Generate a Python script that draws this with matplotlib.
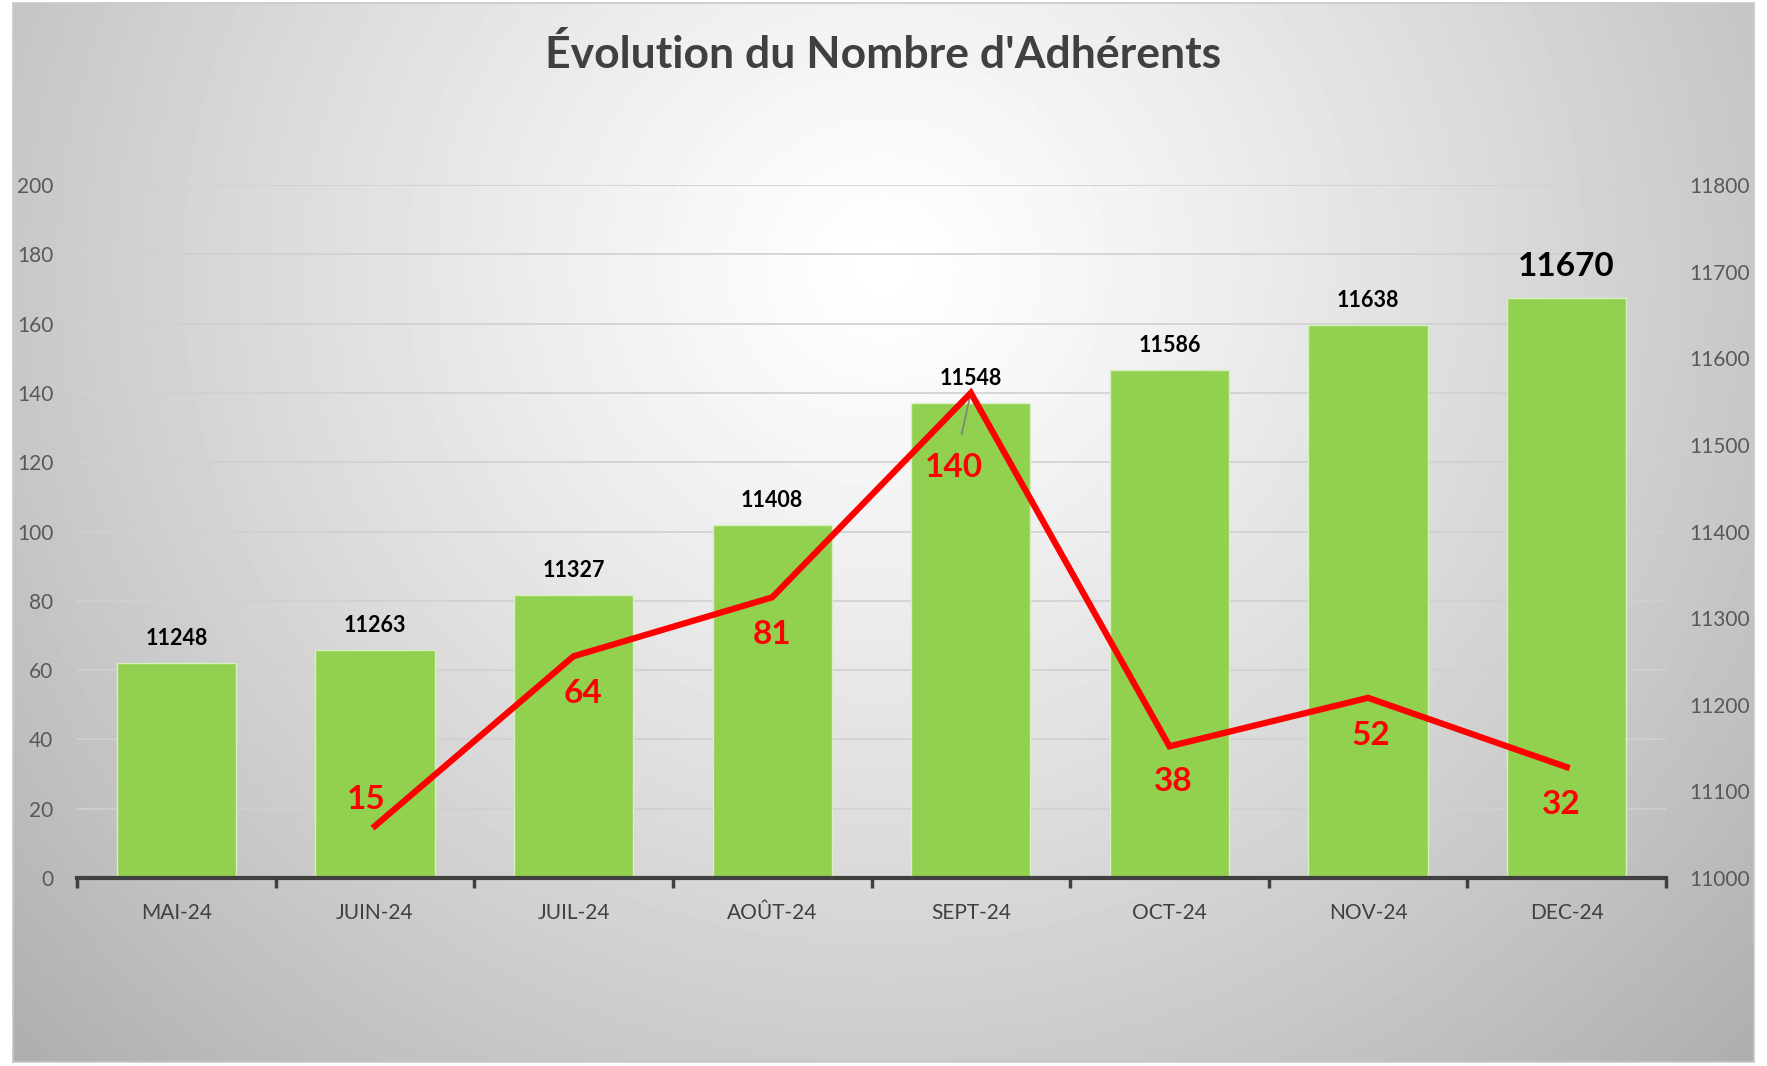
import numpy as np
import matplotlib.pyplot as plt
from matplotlib.transforms import blended_transform_factory

plt.rcParams['font.family'] = ['Lato', 'DejaVu Sans']

mois = ["MAI-24", "JUIN-24", "JUIL-24", "AOÛT-24", "SEPT-24", "OCT-24", "NOV-24", "DEC-24"]
adherents = [11248, 11263, 11327, 11408, 11548, 11586, 11638, 11670]
nouveaux = [None, 15, 64, 81, 140, 38, 52, 32]

W, H = 1767, 1066
fig = plt.figure(figsize=(W / 100, H / 100), dpi=100)

# fond en degrade radial
bg = fig.add_axes([13 / W, 4 / H, 1741 / W, 1059 / H], zorder=-10)
gx, gy = np.meshgrid(np.linspace(0, 1, 400), np.linspace(0, 1, 300))
r = np.sqrt(((gx - 0.5) / 0.6) ** 2 + ((gy - 0.25) / 0.95) ** 2)
val = 1 - 0.27 * np.clip(r, 0, 1.25) ** 1.2
bg.imshow(val, cmap='gray', vmin=0, vmax=1, aspect='auto', extent=[0, 1, 1, 0])
bg.set_xlim(0, 1)
bg.set_ylim(1, 0)
bg.set_xticks([])
bg.set_yticks([])
for s in bg.spines.values():
    s.set_color('#c8c8c8')
    s.set_linewidth(1.2)

ax = fig.add_axes([77 / W, 1 - 878 / H, (1666 - 77) / W, (878 - 185) / H])
axb = ax.twinx()
ax.set_zorder(2)
ax.patch.set_visible(False)
axb.set_zorder(1)

x = np.arange(len(mois))

# barres (axe droit)
axb.bar(x, adherents, width=0.6, color='#92D050', edgecolor='#d8f0c0', linewidth=1, zorder=3)
axb.set_ylim(11000, 11800)
axb.set_yticks(range(11000, 11801, 100))

# grille alignee sur l'axe gauche
tr = blended_transform_factory(axb.transAxes, ax.transData)
for v in range(20, 201, 20):
    axb.plot([0, 1], [v, v], transform=tr, color='#d0d0d0', lw=1.2, zorder=1)

for i, v in enumerate(adherents):
    if i == len(adherents) - 1:
        axb.annotate(str(v), (x[i], v), xytext=(0, 12), textcoords='offset points',
                     ha='center', va='bottom', fontsize=24, fontweight='bold', color='black')
    else:
        axb.annotate(str(v), (x[i], v), xytext=(0, 10), textcoords='offset points',
                     ha='center', va='bottom', fontsize=15.5, fontweight='bold', color='black')

# ligne (axe gauche)
xl = [i for i, v in enumerate(nouveaux) if v is not None]
yl = [v for v in nouveaux if v is not None]
ax.plot(xl, yl, color='#FF0000', lw=4.5, solid_joinstyle='miter', zorder=5)
ax.set_ylim(0, 200)
ax.set_yticks(range(0, 201, 20))
ax.set_xlim(-0.5, len(mois) - 0.5)

offsets = {1: (-6, 19), 2: (7, -27), 3: (0, -27), 4: (-12, -54), 5: (3, -25), 6: (2, -27), 7: (-4, -27)}
for i, v in zip(xl, yl):
    dx, dy = offsets[i]
    if i == 4:
        ax.annotate(str(v), (i, v), xytext=(dx, dy), textcoords='offset points',
                    ha='center', va='center', fontsize=24, fontweight='bold', color='#FF0000',
                    arrowprops=dict(arrowstyle='-', color='#808080', lw=1.2, shrinkA=12, shrinkB=0))
    else:
        ax.annotate(str(v), (i, v), xytext=(dx, dy), textcoords='offset points',
                    ha='center', va='center', fontsize=24, fontweight='bold', color='#FF0000')

# axes et graduations
for a in (ax, axb):
    for s in a.spines.values():
        s.set_visible(False)
ax.spines['bottom'].set_visible(True)
ax.spines['bottom'].set_color('#404040')
ax.spines['bottom'].set_linewidth(3)

ax.set_xticks(np.arange(-0.5, len(mois), 1))
ax.set_xticklabels([])
ax.set_xticks(x, minor=True)
ax.set_xticklabels(mois, minor=True, fontsize=15, color='#404040')
ax.tick_params(axis='x', which='major', direction='out', length=7, width=2.5, color='#404040')
ax.tick_params(axis='x', which='minor', length=0, pad=18)
ax.tick_params(axis='y', length=0, labelsize=15, labelcolor='#595959', pad=17)
axb.tick_params(axis='y', length=0, labelsize=15, labelcolor='#595959', pad=17)
axb.set_xlim(-0.5, len(mois) - 0.5)

fig.text(883 / W, 1 - 54 / H, "Évolution du Nombre d'Adhérents", ha='center', va='center',
         fontsize=32, fontweight='bold', color='#404040')

fig.savefig('out.png', dpi=100)
